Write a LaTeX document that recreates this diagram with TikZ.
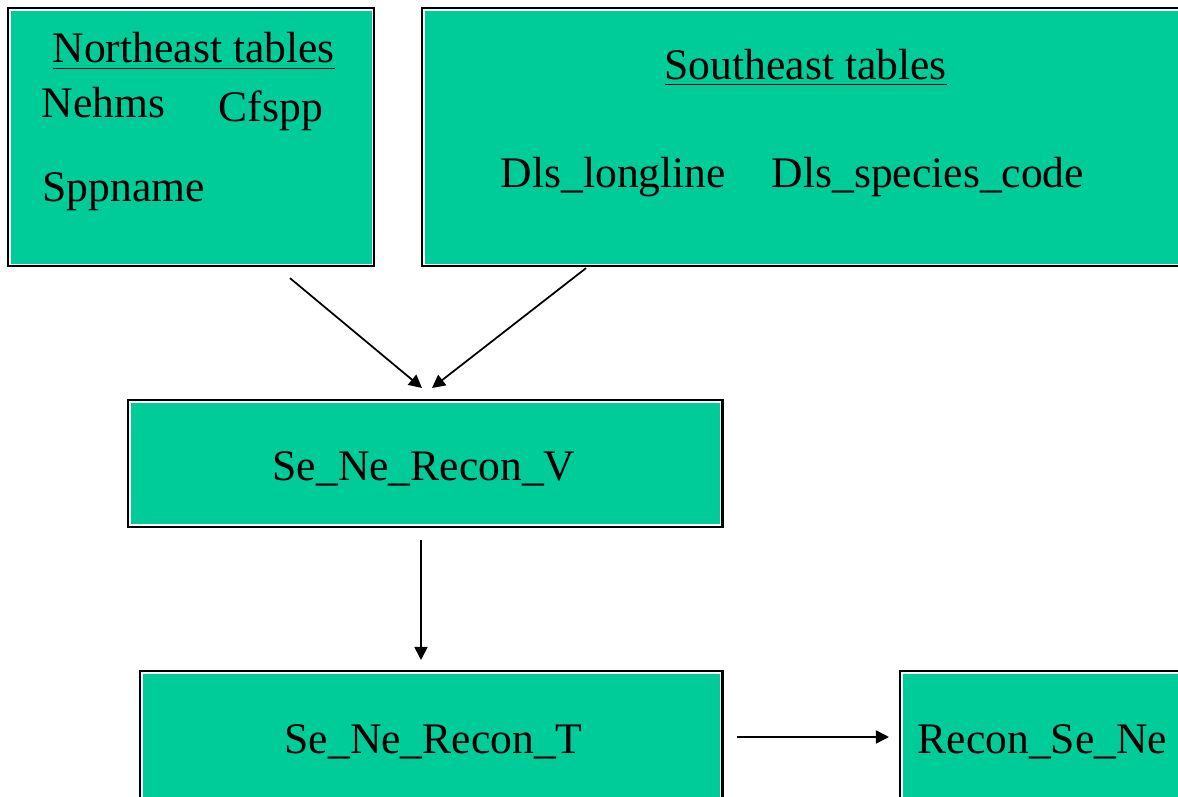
\documentclass[tikz,border=0pt]{standalone}
\usepackage{fontspec}
\setmainfont{Liberation Serif}
\usetikzlibrary{arrows.meta,positioning,calc}
\definecolor{tblgreen}{HTML}{00CC99}

\begin{document}
\begin{tikzpicture}[x=0.01cm, y=-0.01cm, >={Triangle[length=3.7pt,width=3.7pt]},
  every node/.style={font=\fontsize{12.4}{14}\selectfont},
  tbl/.style={draw, line width=0.7pt, fill=tblgreen, inner sep=0pt, outer sep=0pt, anchor=north west,
    path picture={\draw[white, line width=0.4pt]
      ([shift={(0.55pt,-0.55pt)}]path picture bounding box.north west) rectangle
      ([shift={(-0.55pt,0.55pt)}]path picture bounding box.south east);}},
  lbl/.style={anchor=base west, inner sep=0pt},
  arr/.style={->, line width=0.5pt}]
  \useasboundingbox (0,0) rectangle (1178,797);
  % table boxes
  \node[tbl, minimum width=3.66cm, minimum height=2.58cm] (ne) at (8,8) {};
  \node[tbl, minimum width=7.8cm, minimum height=2.58cm] (se) at (422,8) {};
  \node[tbl, minimum width=5.94cm, minimum height=1.27cm] (recv) at (128,400) {};
  \node[tbl, minimum width=5.82cm, minimum height=1.6cm] (rect) at (140,671) {};
  \node[tbl, minimum width=3cm, minimum height=1.6cm] (recon) at (900,671) {};
  % texts
  \node[lbl] (netitle) at (52,63) {\underline{Northeast tables}};
  \node[lbl] (nehms) at (41,117) {Nehms};
  \node[lbl] (cfspp) at (218,121) {Cfspp};
  \node[lbl] (sppname) at (42,202) {Sppname};
  \node[lbl] (setitle) at (664,79) {\underline{Southeast tables}};
  \node[lbl] (longline) at (500,187) {Dls\_longline};
  \node[lbl] (spcode) at (771,187) {Dls\_species\_code};
  \node[lbl] (vlbl) at (272,480) {Se\_Ne\_Recon\_V};
  \node[lbl] (tlbl) at (284,753) {Se\_Ne\_Recon\_T};
  \node[lbl] (rlbl) at (917,753) {Recon\_Se\_Ne};
  % arrows
  \coordinate (ne-out) at ($(ne.south west)+(282,12)$);
  \coordinate (se-out) at ($(se.south west)+(164,2)$);
  \coordinate (v-in1) at ($(recv.north west)+(294,-12)$);
  \coordinate (v-in2) at ($(recv.north west)+(304,-12)$);
  \draw[arr] (ne-out) -- (v-in1);
  \draw[arr] (se-out) -- (v-in2);
  \draw[arr] ($(recv.south west)+(293,13)$) -- ($(rect.north west)+(281,-11)$);
  \draw[arr] ($(rect.north east)+(15,66)$) -- ($(recon.north west)+(-11,66)$);
\end{tikzpicture}
\end{document}
